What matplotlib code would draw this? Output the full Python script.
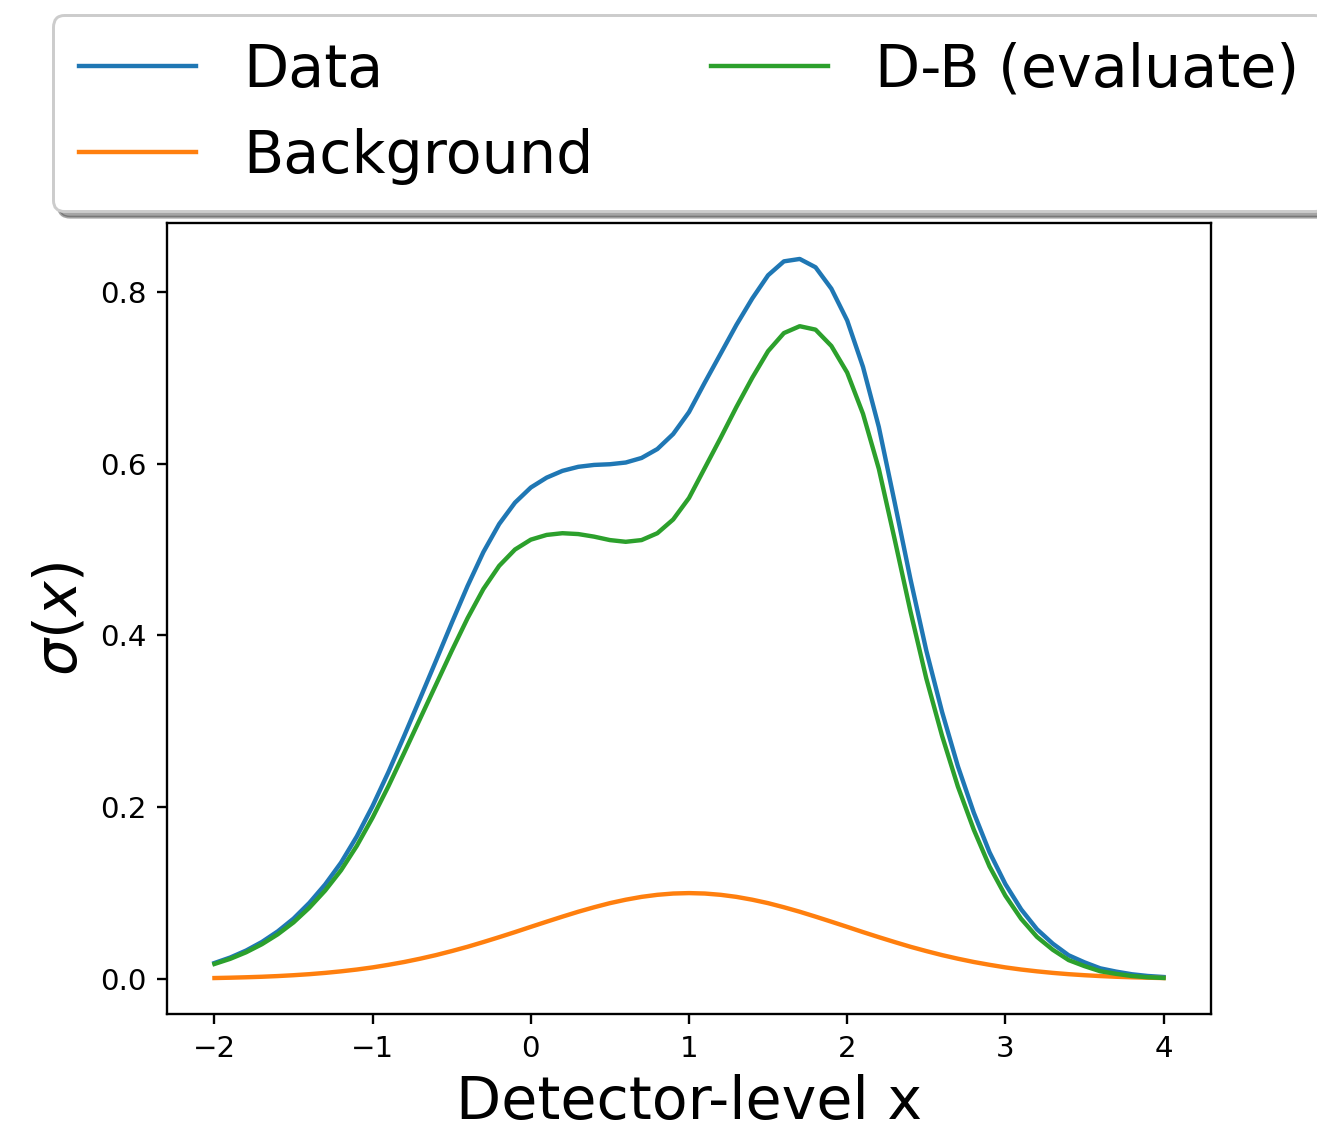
import matplotlib
matplotlib.use('Agg')
import matplotlib.pyplot as plt

# x grid (step 0.1 from -2 to 4)
x_vals = [round(-2.0 + 0.1 * i, 1) for i in range(61)]

data_vals = [
    0.0186, 0.0250, 0.0331, 0.0431, 0.0554, 0.0703, 0.0886, 0.1101, 0.1354, 0.1660,
    0.2015, 0.2410, 0.2833, 0.3266, 0.3703, 0.4145, 0.4575, 0.4970, 0.5297, 0.5546,
    0.5722, 0.5837, 0.5916, 0.5963, 0.5985, 0.5993, 0.6013, 0.6066, 0.6170, 0.6345,
    0.6600, 0.6945, 0.7280, 0.7616, 0.7923, 0.8193, 0.8355, 0.8383, 0.8286, 0.8037,
    0.7667, 0.7126, 0.6427, 0.5550, 0.4655, 0.3825, 0.3108, 0.2476, 0.1938, 0.1475,
    0.1105, 0.0810, 0.0579, 0.0411, 0.0276, 0.0194, 0.0124, 0.0086, 0.0055, 0.0035,
    0.0023,
]

background_vals = [
    0.0011, 0.0015, 0.0020, 0.0026, 0.0034, 0.0044, 0.0056, 0.0071, 0.0089, 0.0110,
    0.0135, 0.0165, 0.0198, 0.0236, 0.0278, 0.0325, 0.0375, 0.0430, 0.0487, 0.0546,
    0.0607, 0.0667, 0.0726, 0.0783, 0.0835, 0.0883, 0.0923, 0.0956, 0.0980, 0.0995,
    0.1000, 0.0995, 0.0980, 0.0956, 0.0923, 0.0883, 0.0835, 0.0783, 0.0726, 0.0667,
    0.0607, 0.0546, 0.0487, 0.0430, 0.0375, 0.0325, 0.0278, 0.0236, 0.0198, 0.0165,
    0.0135, 0.0110, 0.0089, 0.0071, 0.0056, 0.0044, 0.0034, 0.0026, 0.0020, 0.0015,
    0.0011,
]

signal_vals = [
    0.0175, 0.0235, 0.0311, 0.0405, 0.0520, 0.0659, 0.0830, 0.1030, 0.1265, 0.1550,
    0.1880, 0.2245, 0.2635, 0.3030, 0.3425, 0.3820, 0.4200, 0.4540, 0.4810, 0.5000,
    0.5115, 0.5170, 0.5190, 0.5180, 0.5150, 0.5110, 0.5090, 0.5110, 0.5190, 0.5350,
    0.5600, 0.5950, 0.6300, 0.6660, 0.7000, 0.7310, 0.7520, 0.7600, 0.7560, 0.7370,
    0.7060, 0.6580, 0.5940, 0.5120, 0.4280, 0.3500, 0.2830, 0.2240, 0.1740, 0.1310,
    0.0970, 0.0700, 0.0490, 0.0340, 0.0220, 0.0150, 0.0090, 0.0060, 0.0035, 0.0020,
    0.0012,
]

DPI = 211
fig = plt.figure(figsize=(1317 / DPI, 1130 / DPI), dpi=DPI)
ax = fig.add_axes([167 / 1317, 1 - 1014 / 1130, 1044 / 1317, 791 / 1130])

ax.plot(x_vals, data_vals, label='Data')
ax.plot(x_vals, background_vals, label='Background')
ax.plot(x_vals, signal_vals, label='D-B (evaluate)')

ax.set_xlabel('Detector-level x', fontsize=20)
ax.set_ylabel(r'$\sigma(x)$', fontsize=20)

# legend sits above the axes and runs off the right edge, like the original
ax.legend(
    loc='lower center',
    bbox_to_anchor=(0.5, 1.0),
    ncol=2,
    fontsize=20,
    shadow=True,
    borderaxespad=0.2,
    borderpad=0.45,
)

fig.savefig('out.png', dpi=DPI)
